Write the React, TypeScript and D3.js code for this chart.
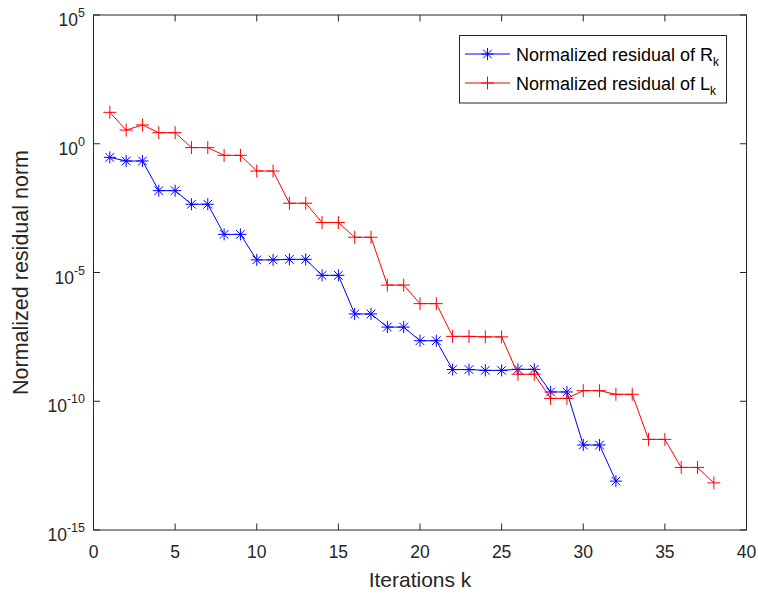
import React from "react";
import * as d3 from "d3";

const iterR = d3.range(1, 33);
const residualR = [
  0.295, 0.214, 0.214, 0.0151, 0.0151, 4.47e-3, 4.47e-3, 3.02e-4, 3.02e-4, 3.09e-5,
  3.09e-5, 3.24e-5, 3.24e-5, 7.76e-6, 7.76e-6, 2.45e-7, 2.45e-7, 7.59e-8, 7.59e-8, 2.24e-8,
  2.24e-8, 1.7e-9, 1.7e-9, 1.58e-9, 1.58e-9, 1.74e-9, 1.74e-9, 2.29e-10, 2.29e-10, 2.0e-12,
  2.0e-12, 7.9e-14,
];
const iterL = d3.range(1, 39);
const residualL = [
  16.6, 3.39, 5.37, 2.69, 2.69, 0.708, 0.708, 0.355, 0.355, 0.0871,
  0.0871, 4.9e-3, 4.9e-3, 8.71e-4, 8.71e-4, 2.34e-4, 2.34e-4, 3.24e-6, 3.24e-6, 6.17e-7,
  6.17e-7, 3.31e-8, 3.31e-8, 3.16e-8, 3.16e-8, 1.12e-9, 1.12e-9, 1.29e-10, 1.29e-10, 2.57e-10,
  2.57e-10, 1.86e-10, 1.86e-10, 3.31e-12, 3.31e-12, 2.69e-13, 2.69e-13, 6.76e-14,
];
const xTicks = [0, 5, 10, 15, 20, 25, 30, 35, 40];
const yTickExponents = [5, 0, -5, -10, -15];
const legendLabels = ["Normalized residual of R", "Normalized residual of L"];

const FONT = "'Liberation Sans', Arial, Helvetica, sans-serif";
const AX = "#262626";

const left = 93.5, right = 746.5, top = 15, bottom = 530;

function Star({ x, y, color }: { x: number; y: number; color: string }) {
  const r = 6, d = r * 0.72;
  return (
    <g stroke={color} strokeWidth={1}>
      <line x1={x - r} y1={y} x2={x + r} y2={y} />
      <line x1={x} y1={y - r} x2={x} y2={y + r} />
      <line x1={x - d} y1={y - d} x2={x + d} y2={y + d} />
      <line x1={x - d} y1={y + d} x2={x + d} y2={y - d} />
    </g>
  );
}

function Plus({ x, y, color }: { x: number; y: number; color: string }) {
  const r = 6.5;
  return (
    <g stroke={color} strokeWidth={1}>
      <line x1={x - r} y1={y} x2={x + r} y2={y} />
      <line x1={x} y1={y - r} x2={x} y2={y + r} />
    </g>
  );
}

export default function App() {
  const x = d3.scaleLinear().domain([0, 40]).range([left, right]);
  const y = d3.scaleLog().domain([1e-15, 1e5]).range([bottom, top]);

  const line = d3
    .line<[number, number]>()
    .x((d) => x(d[0]))
    .y((d) => y(d[1]));

  const ptsR: [number, number][] = iterR.map((k, i) => [k, residualR[i]]);
  const ptsL: [number, number][] = iterL.map((k, i) => [k, residualL[i]]);

  const tickLen = 6.5;

  return (
    <svg width={758} height={594} style={{ position: "absolute", left: 0, top: 0, background: "#fff" }} fontFamily={FONT}>
      <rect x={0} y={0} width={758} height={594} fill="#fff" />
      {/* axes box */}
      <rect x={left} y={top} width={right - left} height={bottom - top} fill="none" stroke={AX} strokeWidth={1} />
      {xTicks.map((t) => (
        <g key={"xt" + t}>
          <line x1={x(t)} x2={x(t)} y1={bottom} y2={bottom - tickLen} stroke={AX} />
          <line x1={x(t)} x2={x(t)} y1={top} y2={top + tickLen} stroke={AX} />
          <text x={x(t)} y={558} textAnchor="middle" fontSize={17.5} fill={AX}>
            {t}
          </text>
        </g>
      ))}
      {yTickExponents.map((e) => {
        const yy = y(Math.pow(10, e));
        return (
          <g key={"yt" + e}>
            <line x1={left} x2={left + tickLen} y1={yy} y2={yy} stroke={AX} />
            <line x1={right} x2={right - tickLen} y1={yy} y2={yy} stroke={AX} />
            <text x={85} y={yy + 11} textAnchor="end" fontSize={17.5} fill={AX}>
              <tspan>10</tspan>
              <tspan dy={-9} fontSize={12.5}>{String(e)}</tspan>
            </text>
          </g>
        );
      })}
      <text x={(left + right) / 2} y={587} textAnchor="middle" fontSize={21} fill={AX}>
        Iterations k
      </text>
      <text
        transform={`translate(28, ${(top + bottom) / 2}) rotate(-90)`}
        textAnchor="middle"
        fontSize={21.5}
        fill={AX}
      >
        Normalized residual norm
      </text>

      {/* series */}
      <path d={line(ptsR) || ""} fill="none" stroke="#0000ff" strokeWidth={1} />
      {ptsR.map((p, i) => (
        <Star key={"r" + i} x={x(p[0])} y={y(p[1])} color="#0000ff" />
      ))}
      <path d={line(ptsL) || ""} fill="none" stroke="#ff0000" strokeWidth={1} />
      {ptsL.map((p, i) => (
        <Plus key={"l" + i} x={x(p[0])} y={y(p[1])} color="#ff0000" />
      ))}

      {/* legend */}
      <rect x={459.5} y={35.5} width={267} height={67.5} fill="#fff" stroke={AX} strokeWidth={1} />
      <line x1={465} x2={510} y1={54} y2={54} stroke="#0000ff" />
      <Star x={487.5} y={54} color="#0000ff" />
      <text x={516} y={60.5} fontSize={18} fill="#000">
        {legendLabels[0]}
        <tspan dy={5} fontSize={12}>k</tspan>
      </text>
      <line x1={465} x2={510} y1={83} y2={83} stroke="#ff0000" />
      <Plus x={487.5} y={83} color="#ff0000" />
      <text x={516} y={89.5} fontSize={18} fill="#000">
        {legendLabels[1]}
        <tspan dy={5} fontSize={12}>k</tspan>
      </text>
    </svg>
  );
}
